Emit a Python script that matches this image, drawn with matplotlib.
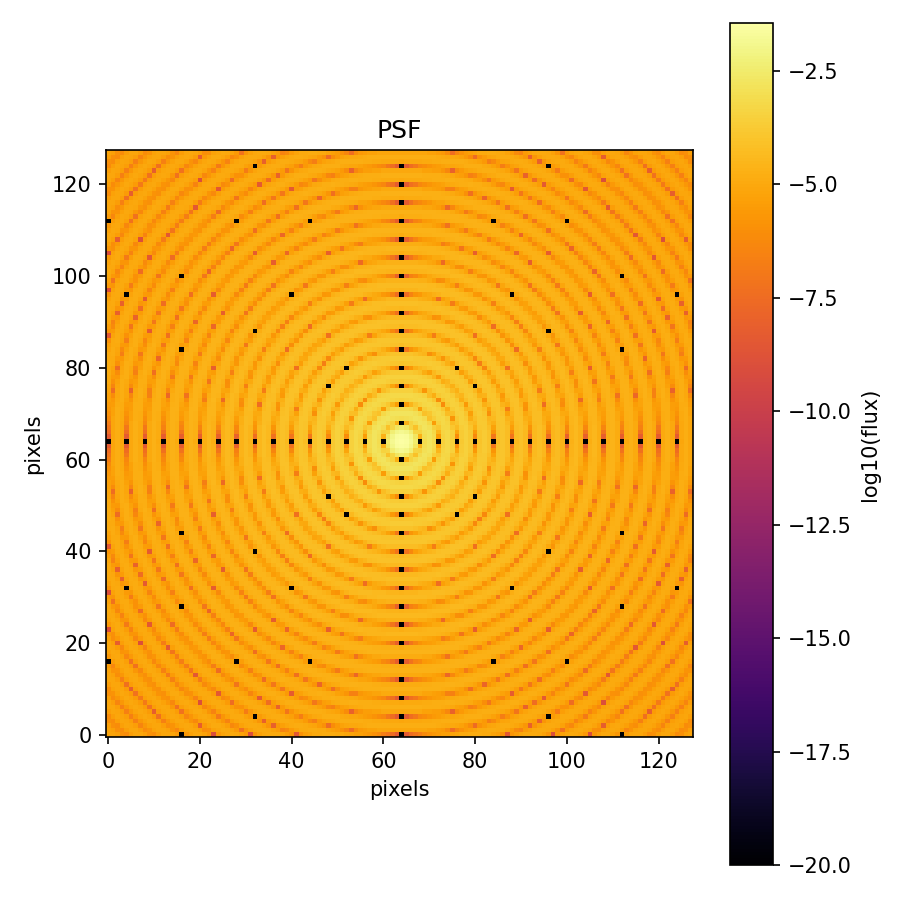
import numpy as np
import matplotlib
matplotlib.use('Agg')
import matplotlib.pyplot as plt

size = 128
center = 64

# log10(flux) of the pixels inside the first dark ring, by squared distance
core_r2 = [0, 1, 2, 4, 5, 8, 9, 10, 13]
core_level = [-1.45, -1.54, -1.63, -1.84, -1.97, -2.37, -2.50, -2.70, -3.40]

# brightest log10(flux) in each ring, rings are 4 pixels wide
ring_peak = [-2.40, -2.80, -3.24, -3.53, -3.75, -3.92, -4.07, -4.19, -4.30, -4.40,
             -4.49, -4.57, -4.64, -4.70, -4.77, -4.82, -4.88, -4.93, -4.98, -5.02,
             -5.07, -5.11, -5.15]

# how far a pixel falls below the ring peak, by its distance to the nearest dark circle
dip_edges = [0.007, 0.015, 0.03, 0.055, 0.085, 0.125, 0.175, 0.25, 0.35, 0.45,
             0.6, 0.8, 1.0, 1.2, 1.4, 1.6, 1.85, 2.01]
dip_drop = [-4.0, -3.5, -3.1, -2.6, -2.2, -1.85, -1.55, -1.3, -1.0, -0.8,
            -0.65, -0.45, -0.3, -0.2, -0.12, -0.06, -0.02, 0.0]

# pixels that are exactly dark
axis_null = [0, 4, 8, 12, 16, 20, 24, 28, 32, 36, 40, 44, 48, 52, 56, 60,
             68, 72, 76, 80, 84, 88, 92, 96, 100, 104, 108, 112, 116, 120, 124]
null_x = [32, 96, 0, 28, 44, 84, 100, 16, 112, 4, 40, 88, 124, 32, 96, 16, 112, 48, 80, 52, 76,
          52, 76, 48, 80, 16, 112, 32, 96, 4, 40, 88, 124, 16, 112, 0, 28, 44, 84, 100, 32, 96, 16, 112]
null_y = [124, 124, 112, 112, 112, 112, 112, 100, 100, 96, 96, 96, 96, 88, 88, 84, 84, 76, 76, 80, 80,
          48, 48, 52, 52, 44, 44, 40, 40, 32, 32, 32, 32, 28, 28, 16, 16, 16, 16, 16, 4, 4, 0, 0]
null_level = -20.0

yy, xx = np.mgrid[0:size, 0:size]
r2 = (xx - center) ** 2 + (yy - center) ** 2
r = np.sqrt(r2)

ring = (r // 4).astype(int)
dist = np.abs(r - 4 * np.round(r / 4))
band = np.searchsorted(dip_edges, dist)
psf = np.array(ring_peak)[ring] + np.array(dip_drop)[band]

for d, level in zip(core_r2, core_level):
    psf[r2 == d] = level

psf[null_y, null_x] = null_level
psf[center, axis_null] = null_level
psf[axis_null, center] = null_level

fig = plt.figure(figsize=(6, 6), dpi=150)
ax = fig.add_axes([106 / 900, 1 - 737 / 900, 587 / 900, 587 / 900])
cax = fig.add_axes([730 / 900, 1 - 865 / 900, 43 / 900, 842 / 900])

im = ax.imshow(psf, origin='lower', cmap='inferno', vmin=-20, vmax=-1.45)
ax.set_title('PSF')
ax.set_xlabel('pixels')
ax.set_ylabel('pixels')
fig.colorbar(im, cax=cax, label='log10(flux)')

fig.savefig('out.png')
